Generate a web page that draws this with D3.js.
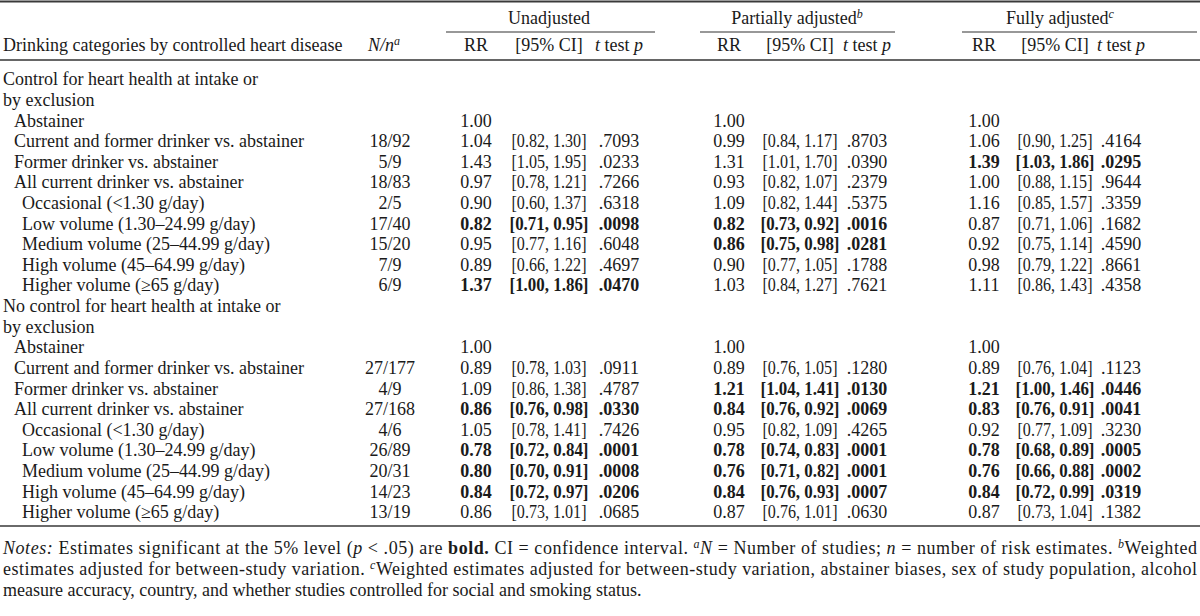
<!DOCTYPE html>
<html><head><meta charset="utf-8">
<script src="https://cdn.jsdelivr.net/npm/d3@7"></script>
<style>
body{margin:0;background:#fff}
svg{display:block}
text{font-family:"Liberation Serif","Times New Roman",serif;fill:#1a1a1a;font-size:18px}
</style>
</head><body><svg id="c" width="1200" height="616"></svg>
<script>
// ---------- DATA ----------
const groupTitles = [["Control for heart health at intake or","by exclusion"],
                     ["No control for heart health at intake or","by exclusion"]];
const rowLabels = ["Abstainer","Current and former drinker vs. abstainer","Former drinker vs. abstainer",
  "All current drinker vs. abstainer","Occasional (<1.30 g/day)","Low volume (1.30–24.99 g/day)",
  "Medium volume (25–44.99 g/day)","High volume (45–64.99 g/day)","Higher volume (≥65 g/day)"];
const rowLevels = [1,1,1,1,2,2,2,2,2];
const modelTitles = ["Unadjusted","Partially adjusted","Fully adjusted"];
const modelNotes = ["","b","c"];

// both groups concatenated (9 rows each)
const studiesN   = [null,18,5,18,2,17,15,7,6,  null,27,4,27,4,26,20,14,13];
const estimatesN = [null,92,9,83,5,40,20,9,9,  null,177,9,168,6,89,31,23,19];

const unadjRR = [1.00,1.04,1.43,0.97,0.90,0.82,0.95,0.89,1.37, 1.00,0.89,1.09,0.86,1.05,0.78,0.80,0.84,0.86];
const unadjLo = [null,0.82,1.05,0.78,0.60,0.71,0.77,0.66,1.00, null,0.78,0.86,0.76,0.78,0.72,0.70,0.72,0.73];
const unadjHi = [null,1.30,1.95,1.21,1.37,0.95,1.16,1.22,1.86, null,1.03,1.38,0.98,1.41,0.84,0.91,0.97,1.01];
const unadjP  = [null,.7093,.0233,.7266,.6318,.0098,.6048,.4697,.0470, null,.0911,.4787,.0330,.7426,.0001,.0008,.0206,.0685];
const unadjBold = [0,0,0,0,0,1,0,0,1, 0,0,0,1,0,1,1,1,0];

const partRR = [1.00,0.99,1.31,0.93,1.09,0.82,0.86,0.90,1.03, 1.00,0.89,1.21,0.84,0.95,0.78,0.76,0.84,0.87];
const partLo = [null,0.84,1.01,0.82,0.82,0.73,0.75,0.77,0.84, null,0.76,1.04,0.76,0.82,0.74,0.71,0.76,0.76];
const partHi = [null,1.17,1.70,1.07,1.44,0.92,0.98,1.05,1.27, null,1.05,1.41,0.92,1.09,0.83,0.82,0.93,1.01];
const partP  = [null,.8703,.0390,.2379,.5375,.0016,.0281,.1788,.7621, null,.1280,.0130,.0069,.4265,.0001,.0001,.0007,.0630];
const partBold = [0,0,0,0,0,1,1,0,0, 0,0,1,1,0,1,1,1,0];

const fullRR = [1.00,1.06,1.39,1.00,1.16,0.87,0.92,0.98,1.11, 1.00,0.89,1.21,0.83,0.92,0.78,0.76,0.84,0.87];
const fullLo = [null,0.90,1.03,0.88,0.85,0.71,0.75,0.79,0.86, null,0.76,1.00,0.76,0.77,0.68,0.66,0.72,0.73];
const fullHi = [null,1.25,1.86,1.15,1.57,1.06,1.14,1.22,1.43, null,1.04,1.46,0.91,1.09,0.89,0.88,0.99,1.04];
const fullP  = [null,.4164,.0295,.9644,.3359,.1682,.4590,.8661,.4358, null,.1123,.0446,.0041,.3230,.0005,.0002,.0319,.1382];
const fullBold = [0,0,1,0,0,0,0,0,0, 0,0,1,1,0,1,1,1,0];

// ---------- LAYOUT ----------
const svg = d3.select("#c");
const f2 = d3.format(".2f");
const fp = v => d3.format(".4f")(v).replace(/^0/, "");
const models = [
  {rr:unadjRR, lo:unadjLo, hi:unadjHi, p:unadjP, b:unadjBold},
  {rr:partRR, lo:partLo, hi:partHi, p:partP, b:partBold},
  {rr:fullRR, lo:fullLo, hi:fullHi, p:fullP, b:fullBold}
];
const colKeys = ["nn","RR0","CI0","P0","RR1","CI1","P1","RR2","CI2","P2"];
const x = d3.scaleOrdinal().domain(colKeys).range([390,476,549,619,729,800,867,984,1055,1121]);
const groupSpan = [[446,655],[700,895],[962,1197]];
const groupCenter = [549,797,1060];
const y = d3.scaleLinear().domain([0,21]).range([79,512]);
const indent = [3,14,22];
const ciWidth = 75, ciWidthBold = 79;

// rules
const rule = (y0, x0, x1, w, c) => svg.append("line").attr("x1",x0).attr("x2",x1).attr("y1",y0).attr("y2",y0)
  .attr("stroke",c).attr("stroke-width",w);
rule(1.5,0,1200,2,"#3a3a3a");
groupSpan.forEach(s => rule(32,s[0],s[1],1.2,"#333"));
rule(60,0,1200,1.6,"#333");
rule(526,0,1200,2,"#6a6a6a");

// header row 1
modelTitles.forEach((t,i) => {
  const tx = svg.append("text").attr("x",groupCenter[i]).attr("y",18).attr("dy","0.35em").attr("text-anchor","middle");
  tx.append("tspan").text(t);
  if (modelNotes[i]) tx.append("tspan").attr("font-style","italic").attr("font-size","12px").attr("dy","-6").text(modelNotes[i]);
});
// header row 2
const hy = 45;
svg.append("text").attr("x",3).attr("y",hy).attr("dy","0.35em").text("Drinking categories by controlled heart disease");
{
  const t = svg.append("text").attr("x",x("nn")-6).attr("y",hy).attr("dy","0.35em").attr("text-anchor","middle");
  t.append("tspan").attr("font-style","italic").text("N/n");
  t.append("tspan").attr("font-style","italic").attr("font-size","12px").attr("dy","-6").text("a");
}
[0,1,2].forEach(i => {
  svg.append("text").attr("x",x("RR"+i)).attr("y",hy).attr("dy","0.35em").attr("text-anchor","middle").text("RR");
  svg.append("text").attr("x",x("CI"+i)).attr("y",hy).attr("dy","0.35em").attr("text-anchor","middle").text("[95% CI]");
  const t = svg.append("text").attr("x",x("P"+i)).attr("y",hy).attr("dy","0.35em").attr("text-anchor","middle");
  t.append("tspan").attr("font-style","italic").text("t");
  t.append("tspan").text(" test ");
  t.append("tspan").attr("font-style","italic").text("p");
});

// body
groupTitles.forEach((lines,g) => {
  lines.forEach((l,k) => svg.append("text").attr("x",indent[0]).attr("y",y(g*11+k)).attr("dy","0.35em").text(l));
  rowLabels.forEach((lab,r) => {
    const i = g*9 + r;
    const yy = y(g*11 + 2 + r);
    svg.append("text").attr("x",indent[rowLevels[r]]).attr("y",yy).attr("dy","0.35em").text(lab);
    if (studiesN[i] != null)
      svg.append("text").attr("x",x("nn")).attr("y",yy).attr("dy","0.35em").attr("text-anchor","middle")
        .text(studiesN[i] + "/" + estimatesN[i]);
    models.forEach((m,mi) => {
      const fw = m.b[i] ? "bold" : "normal";
      svg.append("text").attr("x",x("RR"+mi)).attr("y",yy).attr("dy","0.35em").attr("text-anchor","middle")
        .attr("font-weight",fw).text(f2(m.rr[i]));
      if (m.lo[i] != null) {
        svg.append("text").attr("x",x("CI"+mi)).attr("y",yy).attr("dy","0.35em").attr("text-anchor","middle")
          .attr("font-weight",fw).attr("textLength", m.b[i] ? ciWidthBold : ciWidth).attr("lengthAdjust","spacingAndGlyphs")
          .text("[" + f2(m.lo[i]) + ", " + f2(m.hi[i]) + "]");
        svg.append("text").attr("x",x("P"+mi)).attr("y",yy).attr("dy","0.35em").attr("text-anchor","middle")
          .attr("font-weight",fw).text(fp(m.p[i]));
      }
    });
  });
});

// notes
function noteLine(yy, parts, justify) {
  const t = svg.append("text").attr("x",3).attr("y",yy).attr("dy","0.35em");
  parts.forEach(p => {
    const s = t.append("tspan").text(p.t);
    if (p.i) s.attr("font-style","italic");
    if (p.b) s.attr("font-weight","bold");
    if (p.sup) s.attr("font-size","12px").attr("dy","-6");
    if (p.down) s.attr("dy","6");
  });
  if (justify) t.attr("textLength",1194).attr("lengthAdjust","spacing");
}
noteLine(548,[
  {t:"Notes:",i:1},{t:" Estimates significant at the 5% level ("},{t:"p",i:1},{t:" < .05) are "},{t:"bold.",b:1},
  {t:" CI = confidence interval. "},{t:"a",i:1,sup:1},{t:"N",i:1,down:1},{t:" = Number of studies; "},{t:"n",i:1},
  {t:" = number of risk estimates. "},{t:"b",i:1,sup:1},{t:"Weighted",down:1}],true);
noteLine(569,[
  {t:"estimates adjusted for between-study variation. "},{t:"c",i:1,sup:1},
  {t:"Weighted estimates adjusted for between-study variation, abstainer biases, sex of study population, alcohol",down:1}],true);
noteLine(590,[{t:"measure accuracy, country, and whether studies controlled for social and smoking status."}],false);
</script>
</body></html>
